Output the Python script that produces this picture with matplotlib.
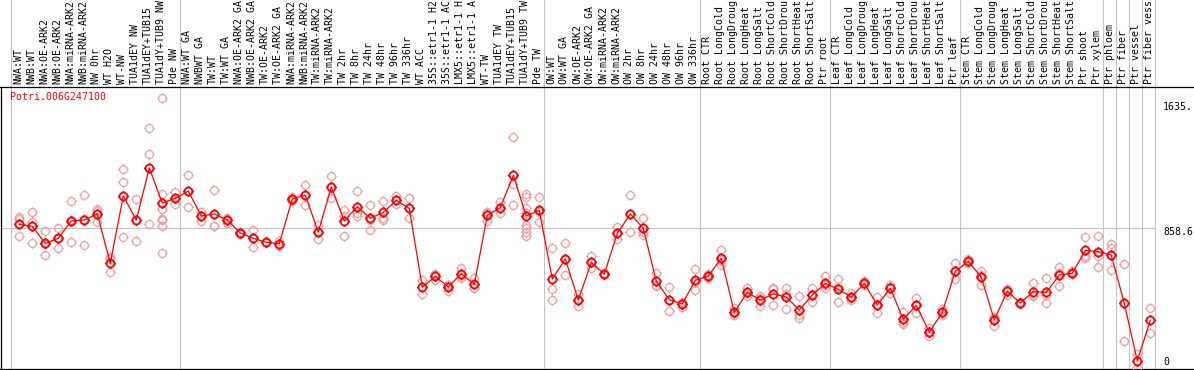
import matplotlib
matplotlib.use("Agg")
import matplotlib.pyplot as plt
import numpy as np
from matplotlib.path import Path
from matplotlib.transforms import offset_copy

# ---- data ------------------------------------------------------------------
labels = [
    # NW
    "NWA:WT", "NWB:WT", "NWA:OE-ARK2", "NWB:OE-ARK2", "NWA:miRNA-ARK2",
    "NWB:miRNA-ARK2", "NW 0hr", "WT H2O", "WT-NW", "TUA1dEY NW",
    "TUA1dEY+TUB15 NW", "TUA1dY+TUB9 NW", "Pde NW",
    # TW
    "NWA:WT GA", "NWBWT GA", "TW:WT", "TW:WT GA", "NWA:OE-ARK2 GA",
    "NWB:OE-ARK2 GA", "TW:OE-ARK2", "TW:OE-ARK2 GA", "NWA:miRNA-ARK2",
    "NWB:miRNA-ARK2", "TW:miRNA-ARK2", "TW:miRNA-ARK2", "TW 2hr", "TW 8hr",
    "TW 24hr", "TW 48hr", "TW 96hr", "TW 336hr", "WT ACC", "35S::etr1-1 H2O",
    "35S::etr1-1 ACC", "LMX5::etr1-1 H2O", "LMX5::etr1-1 ACC", "WT-TW",
    "TUA1dEY TW", "TUA1dEY+TUB15 TW", "TUA1dY+TUB9 TW", "Pde TW",
    # OW
    "OW:WT", "OW:WT GA", "OW:OE-ARK2", "OW:OE-ARK2 GA", "OW:miRNA-ARK2",
    "OW:miRNA-ARK2", "OW 2hr", "OW 8hr", "OW 24hr", "OW 48hr", "OW 96hr",
    "OW 336hr",
    # root
    "Root CTR", "Root LongCold", "Root LongDrought", "Root LongHeat",
    "Root LongSalt", "Root ShortCold", "Root ShortDrought", "Root ShortHeat",
    "Root ShortSalt", "Ptr root",
    # leaf
    "Leaf CTR", "Leaf LongCold", "Leaf LongDrought", "Leaf LongHeat",
    "Leaf LongSalt", "Leaf ShortCold", "Leaf ShortDrought", "Leaf ShortHeat",
    "Leaf ShortSalt", "Ptr leaf",
    # stem
    "Stem CTR", "Stem LongCold", "Stem LongDrought", "Stem LongHeat",
    "Stem LongSalt", "Stem ShortCold", "Stem ShortDrought", "Stem ShortHeat",
    "Stem ShortSalt", "Ptr shoot", "Ptr xylem",
    # single tissues
    "Ptr phloem", "Ptr fiber", "Ptr vessel", "Ptr fiber vessel",
]
group_sizes = [13, 28, 12, 10, 10, 11, 1, 1, 1, 1]

means = [
    884, 871, 762, 794, 906, 912, 951, 634, 1066, 912, 1246, 1021, 1051,
    1098, 938, 951, 912, 829, 794, 769, 760, 1047, 1071, 835, 1124, 906,
    998, 923, 961, 1038, 987, 480, 550, 482, 567, 499, 942, 991, 1199, 938,
    974,
    533, 662, 398, 640, 565, 826, 951, 859, 518, 400, 373, 525,
    552, 666, 319, 447, 398, 437, 417, 334, 430, 505,
    467, 417, 505, 366, 473, 274, 364, 191, 319, 582,
    647, 544, 270, 454, 379, 452, 447, 559, 570, 717, 709,
    687, 377, 6, 268,
]

replicates = [
    [929, 916, 807], [963, 901, 762], [841, 760, 685], [859, 794, 730],
    [1032, 912, 769], [1071, 916, 749], [983, 970, 901], [672, 662, 576],
    [1238, 1154, 801], [1045, 912, 777], [1503, 1334, 884],
    [1694, 1079, 983, 919, 912, 871, 700], [1094, 1051, 1013],
    [1201, 1098, 996], [963, 938, 908], [1103, 876, 874], [927, 914, 895],
    [837, 829, 820], [848, 794, 741], [773, 769, 762], [777, 760, 745],
    [1062, 1041, 1036], [1137, 1071, 1006], [880, 835, 792],
    [1195, 1124, 1051], [974, 940, 807], [1096, 959, 940], [1006, 912, 846],
    [1032, 927, 912], [1066, 1038, 1013], [1051, 987, 923], [527, 480, 435],
    [567, 555, 527], [495, 495, 456], [606, 555, 542], [542, 477, 473],
    [963, 955, 906], [1030, 987, 959], [1443, 1141, 1008],
    [1077, 1062, 987, 955, 880, 859, 837, 811], [1060, 966, 897],
    [730, 467, 398], [764, 662, 557], [437, 398, 358], [679, 640, 604],
    [570, 565, 559], [865, 826, 788], [1071, 949, 833], [923, 837, 816],
    [572, 495, 488], [480, 398, 325], [388, 375, 355], [597, 516, 460],
    [563, 555, 537], [719, 655, 623], [345, 313, 302], [477, 441, 426],
    [426, 409, 358], [473, 469, 366], [473, 435, 340], [422, 302, 281],
    [473, 435, 383], [550, 495, 473],
    [531, 484, 383], [441, 413, 398], [520, 501, 495], [415, 370, 313],
    [495, 484, 441], [319, 259, 242], [409, 366, 317], [216, 184, 169],
    [340, 315, 302], [636, 580, 531],
    [662, 644, 638], [584, 559, 495], [291, 281, 233], [469, 462, 430],
    [388, 377, 370], [505, 430, 422], [537, 430, 377], [610, 570, 490],
    [584, 563, 563], [801, 683, 670], [809, 681, 612],
    [756, 730, 589], [627, 137], [49, -36], [345, 184],
]

gene_name = "Potri.006G247100"
ref_value = 858.6
scale_values = [1635, 858.6, 0]
scale_labels = ["1635.", "858.6", "0"]

# ---- layout (pixels of the 1194x370 canvas) --------------------------------
W, H = 1194, 370
X0, DX = 19.3, 13.0          # first column centre, column pitch
Y0, SY = 362.0, 0.1557       # pixel row of value 0, pixels per unit
HEADER = 87                  # black line under the label header
MAX_CHARS = 14               # the header only has room for this many characters

MONO = "DejaVu Sans Mono"
FS = 7.1
RED = "#ff0000"
PINK = "#f0a0a0"
GRID = "#c4c4c4"


def px_x(px):
    return (px - X0) / DX


def px_y(py):
    return (Y0 - py) / SY


# open circle with four little ticks, like the original markers
_ticks = Path(
    [(0, 1), (0, 1.35), (0, -1), (0, -1.35), (1, 0), (1.35, 0), (-1, 0), (-1.35, 0)],
    [Path.MOVETO, Path.LINETO] * 4,
)
MARKER = Path.make_compound_path(Path.unit_circle(), _ticks)

fig = plt.figure(figsize=(W / 100, H / 100), dpi=100)
ax = fig.add_axes([0, 0, 1, 1])
ax.set_xlim(px_x(0), px_x(W))
ax.set_ylim(px_y(H), px_y(0))
ax.axis("off")

cols = np.arange(len(means))

# group separators
bounds = np.concatenate([[0], np.cumsum(group_sizes)]) - 0.65
for b in bounds:
    ax.axvline(b, color=GRID, linewidth=0.8, zorder=1)

# reference level
ax.hlines(ref_value, px_x(0), bounds[-1], color=GRID, linewidth=0.8, zorder=1)

# frame
ax.axhline(px_y(HEADER), color="black", linewidth=0.9, zorder=2)
ax.axhline(px_y(369.3), color="black", linewidth=0.9, zorder=2)
ax.plot([px_x(0.6)] * 2, [px_y(H), px_y(HEADER)], color="black", linewidth=0.9, zorder=2)

# replicates
rx = np.concatenate([[i] * len(r) for i, r in enumerate(replicates)])
ry = np.concatenate(replicates)
ax.plot(rx, ry, linestyle="none", marker=MARKER, markersize=7.6,
        markerfacecolor="none", markeredgecolor=PINK, markeredgewidth=0.9, zorder=3)

# means
ax.plot(cols, means, color=RED, linewidth=0.9, zorder=4)
ax.plot(cols, means, linestyle="none", marker=MARKER, markersize=7.6,
        markerfacecolor="none", markeredgecolor=RED, markeredgewidth=1.3, zorder=5)

# header labels (cut to the width the header allows, as in the original)
for i, lab in enumerate(labels):
    ax.text(i - 0.1, px_y(84), lab[:MAX_CHARS].rstrip(), rotation=90,
            ha="center", va="bottom", family=MONO, fontsize=FS, color="black")

ax.text(px_x(9.5), px_y(97.5), gene_name, ha="left", va="center",
        family=MONO, fontsize=FS, color=RED)

for v, lab in zip(scale_values, scale_labels):
    tr = ax.transData
    if lab == "858.6":
        tr = offset_copy(ax.transData, fig=fig, y=-3.4, units="dots")
    ax.text(px_x(1163), v, lab, ha="left", va="center", family=MONO,
            fontsize=FS, color="black", transform=tr)

fig.savefig("out.png", dpi=100)
